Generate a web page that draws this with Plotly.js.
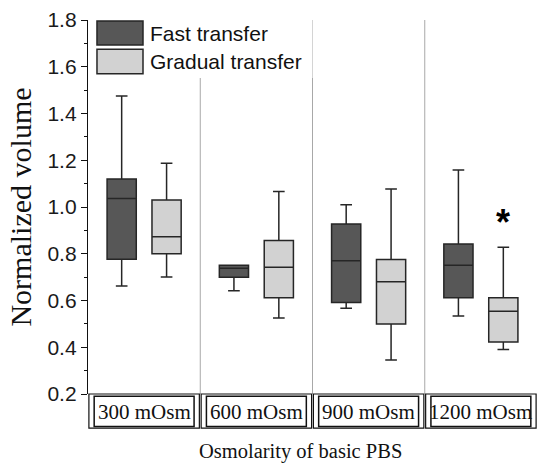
<!DOCTYPE html>
<html>
<head>
<meta charset="utf-8">
<script src="https://cdn.plot.ly/plotly-3.0.1.min.js"></script>
<style>html,body{margin:0;padding:0;background:#fff;}#chart{width:537px;height:465px;}</style>
</head>
<body>
<div id="chart"></div>
<script>
const categories = ['300 mOsm', '600 mOsm', '900 mOsm', '1200 mOsm'];
const seriesNames = ['Fast transfer', 'Gradual transfer'];

const fastLower  = [0.662, 0.642, 0.567, 0.534];
const fastQ1     = [0.776, 0.699, 0.591, 0.612];
const fastMedian = [1.036, 0.738, 0.770, 0.751];
const fastQ3     = [1.120, 0.751, 0.927, 0.842];
const fastUpper  = [1.475, 0.751, 1.010, 1.158];

const gradLower  = [0.701, 0.525, 0.345, 0.390];
const gradQ1     = [0.800, 0.612, 0.499, 0.422];
const gradMedian = [0.873, 0.742, 0.680, 0.554];
const gradQ3     = [1.030, 0.857, 0.775, 0.612];
const gradUpper  = [1.187, 1.066, 1.077, 0.828];

const starCategoryIndex = 3;
const starValue = 0.935;

const darkFill = '#575757';
const lightFill = '#d2d2d2';
const lineCol = '#262626';

const traces = [
  {
    type: 'box', name: seriesNames[0], x: categories,
    q1: fastQ1, median: fastMedian, q3: fastQ3, lowerfence: fastLower, upperfence: fastUpper,
    fillcolor: darkFill, line: {color: lineCol, width: 1.5}, whiskerwidth: 0.4,
    boxpoints: false, hoverinfo: 'skip', showlegend: false
  },
  {
    type: 'box', name: seriesNames[1], x: categories,
    q1: gradQ1, median: gradMedian, q3: gradQ3, lowerfence: gradLower, upperfence: gradUpper,
    fillcolor: lightFill, line: {color: lineCol, width: 1.5}, whiskerwidth: 0.4,
    boxpoints: false, hoverinfo: 'skip', showlegend: false
  }
];

const shapes = [];
const annotations = [];
// vertical dividers between groups
for (let i = 0; i < categories.length - 1; i++) {
  shapes.push({type: 'line', xref: 'x', yref: 'paper', x0: i + 0.5, x1: i + 0.5, y0: 0, y1: 1,
    line: {color: '#a8a8a8', width: 1}, layer: 'above'});
}
// category strip under axis
const stripTop = 0, stripBot = -0.091;
categories.forEach((c, i) => {
  shapes.push({type: 'rect', xref: 'x', yref: 'paper', x0: i - 0.5 + 0.008, x1: i + 0.5 - 0.008,
    y0: stripBot, y1: stripTop, line: {color: '#111', width: 1.2}, fillcolor: 'rgba(0,0,0,0)'});
  shapes.push({type: 'rect', xref: 'x', yref: 'paper', x0: i - 0.5 + 0.055, x1: i + 0.5 - 0.055,
    y0: -0.087, y1: -0.006, line: {color: '#111', width: 1.5}, fillcolor: 'rgba(0,0,0,0)'});
  annotations.push({xref: 'x', yref: 'paper', x: i, y: -0.047, text: c, showarrow: false,
    xanchor: 'center', yanchor: 'middle',
    font: {family: 'Liberation Serif, Times New Roman, serif', size: 21, color: '#111'}});
});
// manual legend
shapes.push({type: 'rect', xref: 'paper', yref: 'paper', x0: 0.003, x1: 0.5, y0: 0.845, y1: 1,
  line: {width: 0}, fillcolor: '#ffffff', layer: 'above'});
shapes.push({type: 'rect', xref: 'paper', yref: 'paper', x0: 0.020, x1: 0.1225, y0: 0.933, y1: 0.997,
  line: {color: lineCol, width: 1.5}, fillcolor: darkFill, layer: 'above'});
shapes.push({type: 'rect', xref: 'paper', yref: 'paper', x0: 0.020, x1: 0.1225, y0: 0.856, y1: 0.922,
  line: {color: lineCol, width: 1.5}, fillcolor: lightFill, layer: 'above'});
annotations.push({xref: 'paper', yref: 'paper', x: 0.134, y: 0.965, text: seriesNames[0], showarrow: false,
  xanchor: 'left', yanchor: 'middle', font: {family: 'Liberation Sans, Arial, sans-serif', size: 21, color: '#111'}});
annotations.push({xref: 'paper', yref: 'paper', x: 0.134, y: 0.889, text: seriesNames[1], showarrow: false,
  xanchor: 'left', yanchor: 'middle', font: {family: 'Liberation Sans, Arial, sans-serif', size: 21, color: '#111'}});
// significance star
annotations.push({xref: 'x', yref: 'y', x: starCategoryIndex + 0.2, y: starValue, text: '<b>*</b>', showarrow: false,
  xanchor: 'center', yanchor: 'middle', font: {family: 'Liberation Sans, Arial, sans-serif', size: 36, color: '#000'}});
// x axis title
annotations.push({xref: 'paper', yref: 'paper', x: 0.474, y: -0.153, text: 'Osmolarity of basic PBS', showarrow: false,
  xanchor: 'center', yanchor: 'middle', borderpad: 0,
  font: {family: 'Liberation Serif, Times New Roman, serif', size: 20.5, color: '#111'}});

const layout = {
  width: 537, height: 465,
  margin: {l: 88, r: 0, t: 20, b: 71, pad: 0},
  paper_bgcolor: '#fff', plot_bgcolor: '#fff',
  boxmode: 'group', boxgap: 0.2, boxgroupgap: 0.35,
  showlegend: false,
  xaxis: {type: 'category', range: [-0.5, 3.5], showticklabels: false, ticks: '', showline: false,
    showgrid: false, zeroline: false, fixedrange: true},
  yaxis: {range: [0.2, 1.8], dtick: 0.2, tick0: 0.2, tickformat: '.1f', ticks: 'outside', ticklen: 6,
    tickwidth: 1, tickcolor: '#111', showline: true, linecolor: '#111', linewidth: 1.2,
    showgrid: false, zeroline: false,
    minor: {ticks: 'outside', ticklen: 3, dtick: 0.1, tickcolor: '#111', showgrid: false},
    tickfont: {family: 'Liberation Sans, Arial, sans-serif', size: 21, color: '#1a1a1a'},
    title: {text: 'Normalized volume', standoff: 6,
      font: {family: 'Liberation Serif, Times New Roman, serif', size: 30, color: '#111'}}},
  shapes: shapes,
  annotations: annotations
};

Plotly.newPlot('chart', traces, layout, {displayModeBar: false, staticPlot: true});
</script>
</body>
</html>
